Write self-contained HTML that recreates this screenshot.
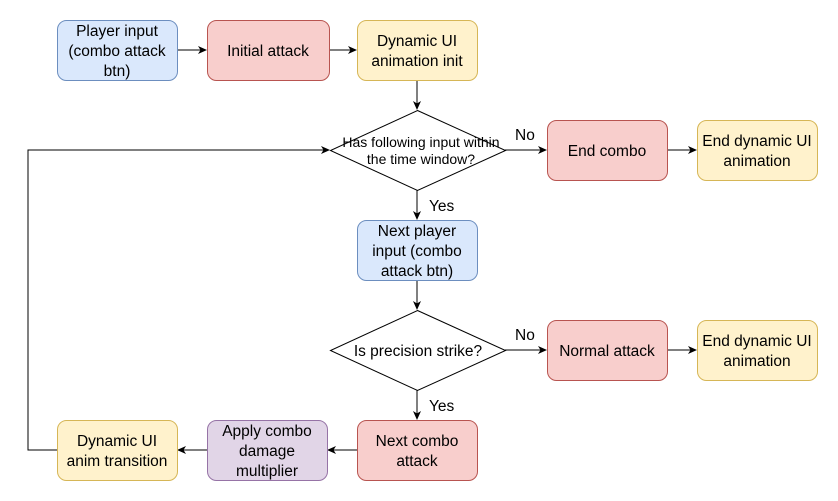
<!DOCTYPE html>
<html><head><meta charset="utf-8"><style>
html,body{margin:0;padding:0;background:#fff}
svg{display:block}
text{font-family:"Liberation Sans",Helvetica,Arial,sans-serif;font-size:15.5px;fill:#000}
.s{font-size:14px}
</style></head><body>
<svg width="838" height="501" viewBox="0 0 838 501" xmlns="http://www.w3.org/2000/svg">
<defs><marker id="a" markerWidth="10" markerHeight="10" refX="8" refY="5" orient="auto" markerUnits="userSpaceOnUse"><path d="M0,1 L9,5 L0,9 L2.5,5 Z" fill="#000"/></marker></defs>
<g stroke="#000" stroke-width="1" fill="none" marker-end="url(#a)">
<line x1="177" y1="50" x2="206" y2="50"/>
<line x1="330" y1="50" x2="356" y2="50"/>
<line x1="417" y1="80" x2="417" y2="109"/>
<line x1="505" y1="150" x2="546" y2="150"/>
<line x1="667" y1="150" x2="696" y2="150"/>
<line x1="417" y1="190" x2="417" y2="219"/>
<line x1="417" y1="280" x2="417" y2="309"/>
<line x1="505" y1="350" x2="546" y2="350"/>
<line x1="667" y1="350" x2="696" y2="350"/>
<line x1="417" y1="390" x2="417" y2="419"/>
<line x1="357" y1="450" x2="328" y2="450"/>
<line x1="207" y1="450" x2="178" y2="450"/>
<polyline points="57,450 28,450 28,150 329,150"/>
</g>
<g stroke-width="1">
<rect x="57.5" y="20.5" width="120" height="60" rx="9" fill="#dae8fc" stroke="#6c8ebf"/>
<rect x="207.5" y="20.5" width="122" height="60" rx="9" fill="#f8cecc" stroke="#b85450"/>
<rect x="357.5" y="20.5" width="120" height="60" rx="9" fill="#fff2cc" stroke="#d6b656"/>
<rect x="547.5" y="120.5" width="120" height="60" rx="9" fill="#f8cecc" stroke="#b85450"/>
<rect x="697.5" y="120.5" width="120" height="60" rx="9" fill="#fff2cc" stroke="#d6b656"/>
<rect x="357.5" y="220.5" width="120" height="60" rx="9" fill="#dae8fc" stroke="#6c8ebf"/>
<rect x="547.5" y="320.5" width="120" height="60" rx="9" fill="#f8cecc" stroke="#b85450"/>
<rect x="697.5" y="320.5" width="120" height="60" rx="9" fill="#fff2cc" stroke="#d6b656"/>
<rect x="357.5" y="420.5" width="120" height="60" rx="9" fill="#f8cecc" stroke="#b85450"/>
<rect x="207.5" y="420.5" width="120" height="60" rx="9" fill="#e1d5e7" stroke="#9673a6"/>
<rect x="57.5" y="420.5" width="120" height="60" rx="9" fill="#fff2cc" stroke="#d6b656"/>
<polygon points="417.5,110.5 505.5,150.5 417.5,190.5 330.5,150.5" fill="#fff" stroke="#000"/>
<polygon points="417.5,310.5 505.5,350.5 417.5,390.5 330.5,350.5" fill="#fff" stroke="#000"/>
</g>
<g text-anchor="middle">
<text x="117" y="36">Player input</text><text x="117" y="56">(combo attack</text><text x="117" y="76">btn)</text>
<text x="268" y="56">Initial attack</text>
<text x="417" y="46">Dynamic UI</text><text x="417" y="66">animation init</text>
<text class="s" x="421" y="147">Has following input within</text><text class="s" x="421" y="164">the time window?</text>
<text x="607" y="156">End combo</text>
<text x="757" y="146">End dynamic UI</text><text x="757" y="166">animation</text>
<text x="417" y="236">Next player</text><text x="417" y="256">input (combo</text><text x="417" y="276">attack btn)</text>
<text x="418" y="356">Is precision strike?</text>
<text x="607" y="356">Normal attack</text>
<text x="757" y="346">End dynamic UI</text><text x="757" y="366">animation</text>
<text x="417" y="446">Next combo</text><text x="417" y="466">attack</text>
<text x="267" y="436">Apply combo</text><text x="267" y="456">damage</text><text x="267" y="476">multiplier</text>
<text x="117" y="446">Dynamic UI</text><text x="117" y="466">anim transition</text>
</g>
<text x="515" y="140">No</text>
<text x="429" y="211">Yes</text>
<text x="515" y="340">No</text>
<text x="429" y="411">Yes</text>
</svg>
</body></html>
